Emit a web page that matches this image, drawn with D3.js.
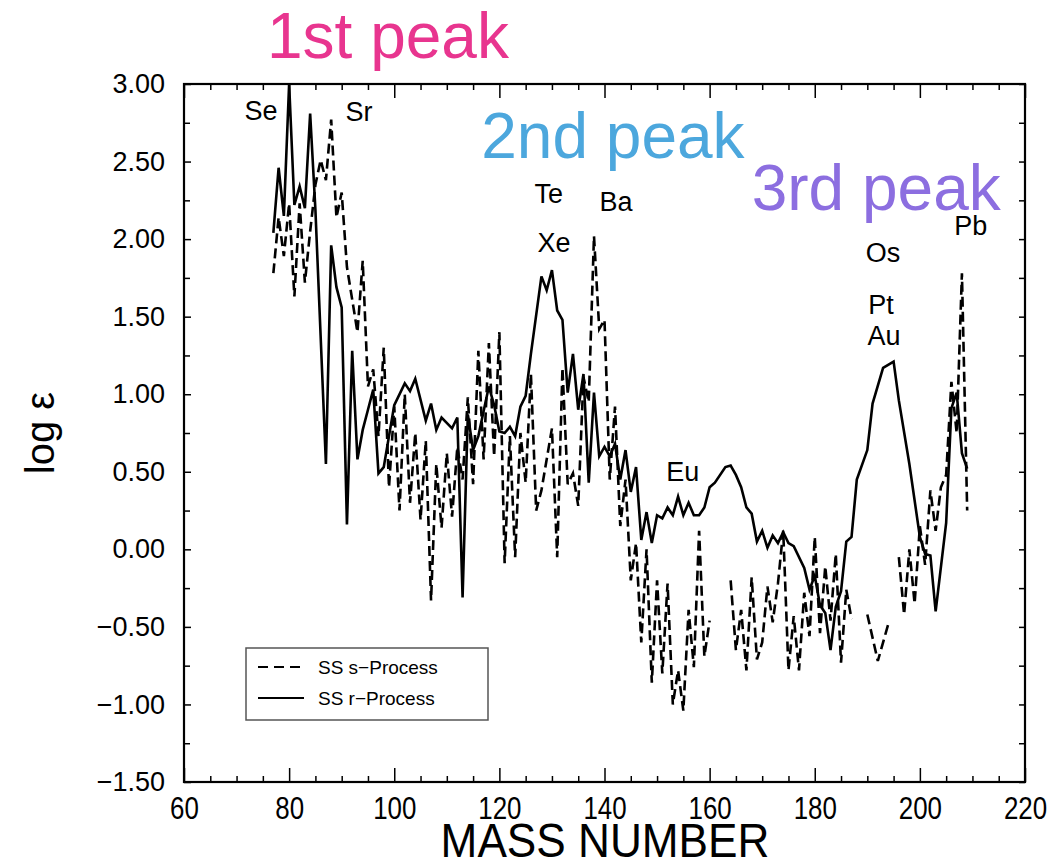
<!DOCTYPE html>
<html>
<head>
<meta charset="utf-8">
<script src="https://cdn.jsdelivr.net/npm/d3@7"></script>
<style>
  html, body { margin: 0; padding: 0; background: #fff; }
  svg { display: block; }
  text { font-family: "Liberation Sans", Arial, Helvetica, sans-serif; }
</style>
</head>
<body>
<svg id="chart" width="1054" height="861"></svg>
<script>
// ---------------- data ----------------
const xTicks = [60, 80, 100, 120, 140, 160, 180, 200, 220];
const yTicks = [-1.5, -1.0, -0.5, 0.0, 0.5, 1.0, 1.5, 2.0, 2.5, 3.0];

// Solar-system r-process (solid line)
const massR = [77,78,79,80,81,82,83,84,85,87,88,89,90,91,92,93,94,95,96,97,98,100,102,103,104,106,107,108,109,
  111,112,113,114,115,116,117,118,119,120,121,122,123,124,125,126,
  128,129,130,131,132,133,134,135,136,137,138,139,140,141,142,143,144,145,146,147,148,149,150,151,152,153,154,155,156,157,158,159,160,161,
  163,164,165,166,167,168,169,170,171,172,173,174,175,176,
  178,179,180,181,182,183,184,185,186,187,188,
  190,191,193,195,196,198,200,201,202,203,205,206,207,208,209];
const logR = [2.04,2.46,2.15,3.00,2.22,2.34,2.20,2.81,2.19,0.55,1.96,1.69,1.56,0.16,1.28,0.58,0.77,0.90,1.03,0.49,0.53,0.93,1.07,1.02,1.10,0.83,0.94,0.77,0.85,
  0.78,0.85,-0.31,0.87,0.64,0.73,0.89,1.05,0.93,0.76,0.75,0.79,0.73,0.92,0.99,1.26,
  1.76,1.67,1.80,1.54,1.48,1.01,1.26,0.90,1.13,0.43,1.01,0.60,0.66,0.60,0.68,0.45,0.64,0.37,0.53,0.06,0.24,0.04,0.22,0.20,0.27,0.22,0.34,0.22,0.30,0.22,0.22,0.27,0.40,0.43,
  0.53,0.54,0.48,0.40,0.27,0.23,0.05,0.12,0.01,0.09,0.04,0.11,0.04,0.02,
  -0.12,-0.26,-0.17,-0.36,-0.41,-0.65,-0.37,-0.27,0.05,0.08,0.45,
  0.64,0.94,1.17,1.21,0.96,0.55,0.08,-0.03,-0.04,-0.40,0.17,0.91,1.01,0.62,0.52];

// Solar-system s-process (dashed line); null = no value (gap)
const massS = [77,78,79,80,81,82,83,84,85,86,87,88,89,90,91,92,93,94,95,96,97,98,99,100,101,102,103,104,105,106,
  107,108,109,110,111,112,113,114,115,116,117,118,119,120,121,122,123,124,125,126,127,128,
  130,131,132,133,134,135,136,137,138,139,140,141,142,143,144,145,146,147,148,149,150,151,152,153,154,155,156,157,158,159,160,161,
  164,165,166,167,168,169,170,171,172,173,174,175,176,177,178,179,180,181,182,183,184,185,186,187,188,
  190,192,194,195,
  196,197,198,199,200,201,202,203,204,205,206,207,208,209];
const logS = [1.78,2.14,1.89,2.23,1.63,2.23,1.72,2.05,2.35,2.51,2.38,2.77,2.14,2.30,1.82,1.61,1.40,1.86,1.05,1.16,
  0.73,1.30,0.40,0.92,0.25,1.00,0.30,0.75,0.19,0.70,
  -0.33,0.55,0.14,0.62,0.21,0.66,0.45,0.98,0.42,1.28,0.58,1.33,0.60,1.40,-0.09,0.73,-0.05,0.75,0.43,1.13,0.25,0.38,
  0.78,-0.05,1.17,0.42,0.49,0.28,1.11,0.95,2.02,1.42,1.48,0.45,0.92,0.15,0.45,-0.20,0.04,-0.60,0.00,-0.86,
  -0.20,-0.80,-0.22,-1.00,-0.78,-1.04,-0.39,-0.76,0.12,-0.69,-0.46,null,
  -0.20,-0.65,-0.39,-0.78,-0.18,-0.71,-0.60,-0.24,-0.47,-0.22,0.12,-0.78,-0.43,-0.78,-0.28,-0.56,0.08,-0.54,-0.11,-0.46,
  -0.03,-0.73,-0.26,-0.45,null,
  -0.42,-0.72,-0.48,null,
  -0.05,-0.42,0.00,-0.35,0.15,-0.10,0.38,0.12,0.40,0.48,1.08,0.75,1.78,0.25];

// element labels (text, mass number, log eps of baseline)
const elemText = ["Se","Sr","Te","Xe","Ba","Eu","Os","Pt","Au","Pb"];
const elemMass = [74.65,93.3,129.4,130.4,142.2,154.9,193.0,192.6,193.2,209.7];
const elemLog  = [2.77,2.76,2.233,1.917,2.181,0.441,1.852,1.517,1.317,2.027];

const peakText = ["1st peak","2nd peak","3rd peak"];
const peakMass = [98.8,141.6,191.7];
const peakLog  = [3.168,2.523,2.188];
const peakColor = ["#e8358f","#4ca7dd","#8c6ee0"];

const seriesNames = ["SS s\u2212Process","SS r\u2212Process"];

// ---------------- layout ----------------
const svg = d3.select("#chart");
const pL = 184, pR = 1025, pT = 84, pB = 782;
const x = d3.scaleLinear().domain([60, 220]).range([pL, pR]);
const y = d3.scaleLinear().domain([-1.5, 3.0]).range([pB, pT]);

const fmtY = d3.format(".2f");

// condense text horizontally (Helvetica-Narrow look)
function condense(sel, f) {
  sel.each(function() {
    const w = this.getComputedTextLength();
    d3.select(this).attr("textLength", w * f).attr("lengthAdjust", "spacingAndGlyphs");
  });
}

// bottom axis (labels + major inner ticks)
const gB = svg.append("g").attr("transform", `translate(0,${pB})`)
  .call(d3.axisBottom(x).tickValues(xTicks).tickSize(-14).tickPadding(14).tickFormat(d3.format("d")));
gB.selectAll("text").style("font-size", "32px").style("font-family", '"Liberation Sans", Arial, sans-serif').attr("fill", "#000");
condense(gB.selectAll("text"), 0.81);
svg.append("g").attr("transform", `translate(0,${pB})`)
  .call(d3.axisBottom(x).tickValues(d3.range(60, 221, 5).filter(v => v % 20)).tickSize(-6).tickFormat(""));
// top axis
svg.append("g").attr("transform", `translate(0,${pT})`)
  .call(d3.axisTop(x).tickValues(xTicks).tickSize(-14).tickFormat(""));
svg.append("g").attr("transform", `translate(0,${pT})`)
  .call(d3.axisTop(x).tickValues(d3.range(60, 221, 5).filter(v => v % 20)).tickSize(-6).tickFormat(""));
// left axis
const gL = svg.append("g").attr("transform", `translate(${pL},0)`)
  .call(d3.axisLeft(y).tickValues(yTicks).tickSize(-7).tickPadding(19).tickFormat(fmtY));
gL.selectAll("text").style("font-size", "27px").style("font-family", '"Liberation Sans", Arial, sans-serif').attr("fill", "#000");
svg.append("g").attr("transform", `translate(${pL},0)`)
  .call(d3.axisLeft(y).tickValues(d3.range(-1.25, 3, 0.5)).tickSize(-6).tickFormat(""));
// right axis
svg.append("g").attr("transform", `translate(${pR},0)`)
  .call(d3.axisRight(y).tickValues(d3.range(-1.5, 3.01, 0.25)).tickSize(-6).tickFormat(""));

svg.selectAll(".domain").remove();
svg.selectAll(".tick line").attr("stroke", "#000").attr("stroke-width", 1.5);

// frame
svg.append("rect").attr("x", pL).attr("y", pT).attr("width", pR - pL).attr("height", pB - pT)
  .attr("fill", "none").attr("stroke", "#000").attr("stroke-width", 2.2);

// axis titles
const xt = svg.append("text").attr("x", 605).attr("y", 857).attr("text-anchor", "middle")
  .style("font-size", "48px").text("MASS NUMBER");
condense(xt, 0.92);
svg.append("text").attr("transform", `translate(54,${(pT + pB) / 2})rotate(-90)`)
  .attr("text-anchor", "middle").style("font-size", "40px").text("log \u03b5");

// lines
const line = d3.line().defined(d => d[1] !== null).x(d => x(d[0])).y(d => y(d[1]));
const sData = massS.map((m, i) => [m, logS[i]]);
const rData = massR.map((m, i) => [m, logR[i]]);
svg.append("path").datum(sData).attr("d", line).attr("fill", "none").attr("stroke", "#000")
  .attr("stroke-width", 2.6).attr("stroke-dasharray", "10,5").attr("stroke-linejoin", "miter");
svg.append("path").datum(rData).attr("d", line).attr("fill", "none").attr("stroke", "#000")
  .attr("stroke-width", 2.6).attr("stroke-linejoin", "miter");

// element labels
svg.selectAll(".elem").data(elemText).join("text").attr("class", "elem")
  .attr("x", (d, i) => x(elemMass[i])).attr("y", (d, i) => y(elemLog[i]))
  .attr("text-anchor", "middle").style("font-size", "27px").text(d => d);

// peak labels
svg.selectAll(".peak").data(peakText).join("text").attr("class", "peak")
  .attr("x", (d, i) => x(peakMass[i])).attr("y", (d, i) => y(peakLog[i]))
  .attr("text-anchor", "middle").attr("fill", (d, i) => peakColor[i])
  .style("font-size", "64px").text(d => d);

// legend
const lg = svg.append("g");
lg.append("rect").attr("x", 246).attr("y", 648).attr("width", 242).attr("height", 72)
  .attr("fill", "#fff").attr("stroke", "#555").attr("stroke-width", 1.5);
const legY = [667, 698];
lg.selectAll("line").data(seriesNames).join("line")
  .attr("x1", 258).attr("x2", 304).attr("y1", (d, i) => legY[i]).attr("y2", (d, i) => legY[i])
  .attr("stroke", "#000").attr("stroke-width", 2)
  .attr("stroke-dasharray", (d, i) => i === 0 ? "10,6" : null);
lg.selectAll("text").data(seriesNames).join("text")
  .attr("x", 318).attr("y", (d, i) => legY[i]).attr("dy", "0.35em")
  .style("font-size", "19px").text(d => d);
</script>
</body>
</html>
